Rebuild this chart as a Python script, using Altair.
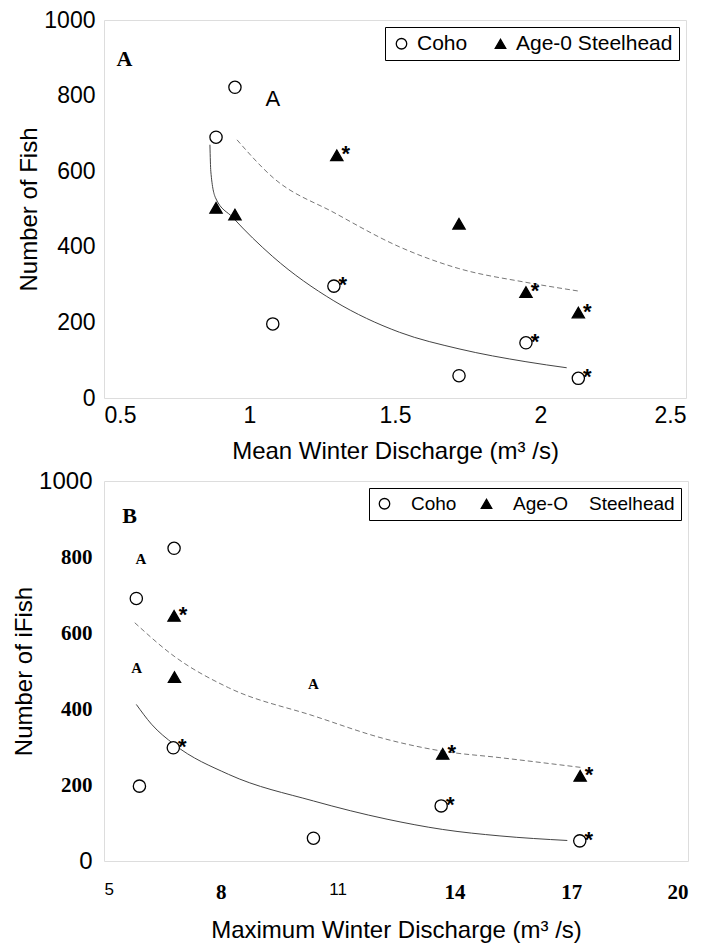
import altair as alt
import pandas as pd

SANS = "Liberation Sans"
SERIF = "Liberation Serif"

# ---------------- Panel A : mean winter discharge ----------------
a_species = ["Coho", "Age-0 Steelhead"]
a_coho_x = [0.95, 0.885, 1.29, 1.08, 1.72, 1.95, 2.13]
a_coho_y = [822, 690, 296, 196, 59, 146, 52]
a_coho_star = [False, False, True, False, False, True, True]
a_sh_x = [1.30, 0.885, 0.95, 1.72, 1.95, 2.13]
a_sh_y = [642, 503, 485, 461, 280, 226]
a_sh_star = [True, False, False, False, True, True]
a_fit_coho_x = [0.864, 0.867, 0.883, 0.942, 1.08, 1.29, 1.515, 1.72, 1.95, 2.09]
a_fit_coho_y = [670, 600, 530, 478, 374, 257, 174, 130, 96, 80]
a_fit_sh_x = [0.957, 1.081, 1.294, 1.515, 1.717, 1.95, 2.13]
a_fit_sh_y = [683, 583, 489, 400, 343, 306, 283]
a_stray_x = [1.08]
a_stray_y = [790]
a_panel_label = ["A"]
a_panel_xy = [0.57, 896]

# ---------------- Panel B : maximum winter discharge ----------------
b_species = ["Coho", "Age-O\u00a0\u00a0\u00a0\u00a0Steelhead"]
b_coho_x = [6.8, 5.83, 6.78, 5.91, 10.38, 13.66, 17.22]
b_coho_y = [823, 691, 298, 197, 60, 145, 53]
b_coho_star = [False, False, True, False, False, True, True]
b_sh_x = [6.80, 6.81, 13.70, 17.23]
b_sh_y = [645, 484, 282, 224]
b_sh_star = [True, False, True, True]
b_fit_coho_x = [5.83, 6.22, 6.80, 8.2, 10.38, 12.27, 13.7, 15.17, 16.9]
b_fit_coho_y = [412, 360, 307, 228, 158, 110, 83, 66, 54]
b_fit_sh_x = [5.79, 6.80, 8.2, 10.38, 12.27, 13.7, 15.17, 17.27]
b_fit_sh_y = [627, 539, 456, 382, 320, 289, 272, 246]
b_stray_x = [5.95, 5.84, 10.38]
b_stray_y = [794, 509, 465]
b_panel_label = ["B"]
b_panel_xy = [5.66, 908]

a_xticks = [0.5, 1, 1.5, 2, 2.5]
b_xticks = [5, 8, 11, 14, 17, 20]
y_ticks = [0, 200, 400, 600, 800, 1000]


def points_df(cx, cy, cs, sx, sy, ss, species):
    rows = [dict(x=x, y=y, star=s, species=species[0]) for x, y, s in zip(cx, cy, cs)]
    rows += [dict(x=x, y=y, star=s, species=species[1]) for x, y, s in zip(sx, sy, ss)]
    return pd.DataFrame(rows)


def fit_df(cx, cy, sx, sy):
    rows = [dict(x=x, y=y, fit="coho", o=i) for i, (x, y) in enumerate(zip(cx, cy))]
    rows += [dict(x=x, y=y, fit="sh", o=i) for i, (x, y) in enumerate(zip(sx, sy))]
    return pd.DataFrame(rows)


def panel(pts, fits, stray, label, label_xy, species, xdom, xaxis, yaxis, legend,
          stray_style, w, h):
    xs = alt.Scale(domain=xdom, nice=False, zero=False)
    ys = alt.Scale(domain=[0, 1000], nice=False)
    X = alt.X("x:Q", scale=xs, axis=xaxis)
    Y = alt.Y("y:Q", scale=ys, axis=yaxis)

    coho_line = alt.Chart(fits[fits.fit == "coho"]).mark_line(
        color="#444", strokeWidth=1, interpolate="monotone"
    ).encode(x=X, y=Y, order="o:Q")
    sh_line = alt.Chart(fits[fits.fit == "sh"]).mark_line(
        color="#777", strokeWidth=1, strokeDash=[5, 3], interpolate="monotone"
    ).encode(x=X, y=Y, order="o:Q")

    pts_layer = alt.Chart(pts).mark_point(
        filled=True, strokeWidth=1.3, size=150, opacity=1
    ).encode(
        x=X, y=Y,
        shape=alt.Shape("species:N", scale=alt.Scale(domain=species, range=["circle", "triangle-up"]),
                        legend=legend),
        fill=alt.Fill("species:N", scale=alt.Scale(domain=species, range=["white", "black"]),
                      legend=legend),
        stroke=alt.Stroke("species:N", scale=alt.Scale(domain=species, range=["black", "black"]),
                          legend=legend),
    )
    stars = alt.Chart(pts[pts.star]).mark_text(
        text="*", font=SANS, fontSize=22, fontWeight="bold", dx=9, dy=-1, color="black"
    ).encode(x=X, y=Y)

    stray_df = pd.DataFrame({"x": stray[0], "y": stray[1], "t": ["A"] * len(stray[0])})
    stray_layer = alt.Chart(stray_df).mark_text(color="black", **stray_style).encode(
        x=X, y=Y, text="t:N")

    lab_df = pd.DataFrame({"x": [label_xy[0]], "y": [label_xy[1]], "t": label})
    lab_layer = alt.Chart(lab_df).mark_text(
        font=SERIF, fontSize=22, fontWeight="bold", color="black"
    ).encode(x=X, y=Y, text="t:N")

    return alt.layer(coho_line, sh_line, pts_layer, stars, stray_layer, lab_layer).properties(
        width=w, height=h)


legend_common = dict(
    title=None, orient="top-right", direction="horizontal", offset=7,
    labelFont=SANS, labelColor="black", labelLimit=0,
    symbolSize=110, symbolStrokeWidth=1.3, strokeColor="black", fillColor="white", padding=6,
)

a_legend = alt.Legend(columnPadding=22, labelOffset=5, labelFontSize=21, **legend_common)
b_legend = alt.Legend(columnPadding=20, labelOffset=17, labelFontSize=19, **legend_common)

a_xaxis = alt.Axis(values=a_xticks, labelExpr="'' + datum.value",
                   title="Mean Winter Discharge (m\u00b3 /s)",
                   ticks=False, domain=False, grid=False, labelFont=SANS, labelFontSize=23,
                   labelColor="black", labelPadding=6, titleFont=SANS, titleFontSize=24,
                   titleFontWeight="normal", titleColor="black", titlePadding=12)
a_yaxis = alt.Axis(values=y_ticks, labelExpr="'' + datum.value", title="Number of Fish",
                   ticks=False, domain=False, grid=False,
                   labelFont=SANS, labelFontSize=23, labelColor="black", labelPadding=9,
                   titleFont=SANS, titleFontSize=24, titleFontWeight="normal", titleColor="black",
                   titlePadding=2)

b_xaxis = alt.Axis(values=b_xticks, labelExpr="'' + datum.value",
                   title="Maximum Winter Discharge (m\u00b3 /s)", ticks=False,
                   domain=False, grid=False,
                   labelFont={"expr": "datum.value == 5 || datum.value == 11 ? 'Liberation Sans' : 'Liberation Serif'"},
                   labelFontWeight={"expr": "datum.value == 5 || datum.value == 11 ? 'normal' : 'bold'"},
                   labelFontSize={"expr": "datum.value == 5 || datum.value == 11 ? 17 : 21"},
                   labelColor="black", labelPadding=20, titleFont=SANS, titleFontSize=24,
                   titleFontWeight="normal", titleColor="black", titlePadding=16)
b_yaxis = alt.Axis(values=y_ticks, labelExpr="'' + datum.value", title="Number of iFish",
                   ticks=False, domain=False, grid=False,
                   labelFont={"expr": "datum.value == 0 || datum.value == 1000 ? 'Liberation Sans' : 'Liberation Serif'"},
                   labelFontWeight={"expr": "datum.value == 0 || datum.value == 1000 ? 'normal' : 'bold'"},
                   labelFontSize={"expr": "datum.value == 0 || datum.value == 1000 ? 24 : 21"},
                   labelColor="black", labelPadding=12, titleFont=SANS, titleFontSize=24,
                   titleFontWeight="normal", titleColor="black", titlePadding=2)

a_pts = points_df(a_coho_x, a_coho_y, a_coho_star, a_sh_x, a_sh_y, a_sh_star, a_species)
a_fits = fit_df(a_fit_coho_x, a_fit_coho_y, a_fit_sh_x, a_fit_sh_y)
b_pts = points_df(b_coho_x, b_coho_y, b_coho_star, b_sh_x, b_sh_y, b_sh_star, b_species)
b_fits = fit_df(b_fit_coho_x, b_fit_coho_y, b_fit_sh_x, b_fit_sh_y)

pa = panel(a_pts, a_fits, (a_stray_x, a_stray_y), a_panel_label, a_panel_xy, a_species,
           [0.5, 2.5], a_xaxis, a_yaxis, a_legend,
           dict(font=SANS, fontSize=22), 582, 378)
pb = panel(b_pts, b_fits, (b_stray_x, b_stray_y), b_panel_label, b_panel_xy, b_species,
           [5, 20], b_xaxis, b_yaxis, b_legend,
           dict(font=SERIF, fontSize=15, fontWeight="bold"), 584, 380)

chart = alt.vconcat(pa, pb, spacing=4).resolve_scale(
    shape="independent", fill="independent", stroke="independent",
    x="independent", y="independent"
).resolve_legend(shape="independent", fill="independent", stroke="independent").properties(
    padding={"left": 4, "top": 0, "right": 0, "bottom": 0}
).configure_view(stroke="black", strokeWidth=3).configure(background="white")

chart.save("out.html", embed_options={"renderer": "svg", "actions": False})
